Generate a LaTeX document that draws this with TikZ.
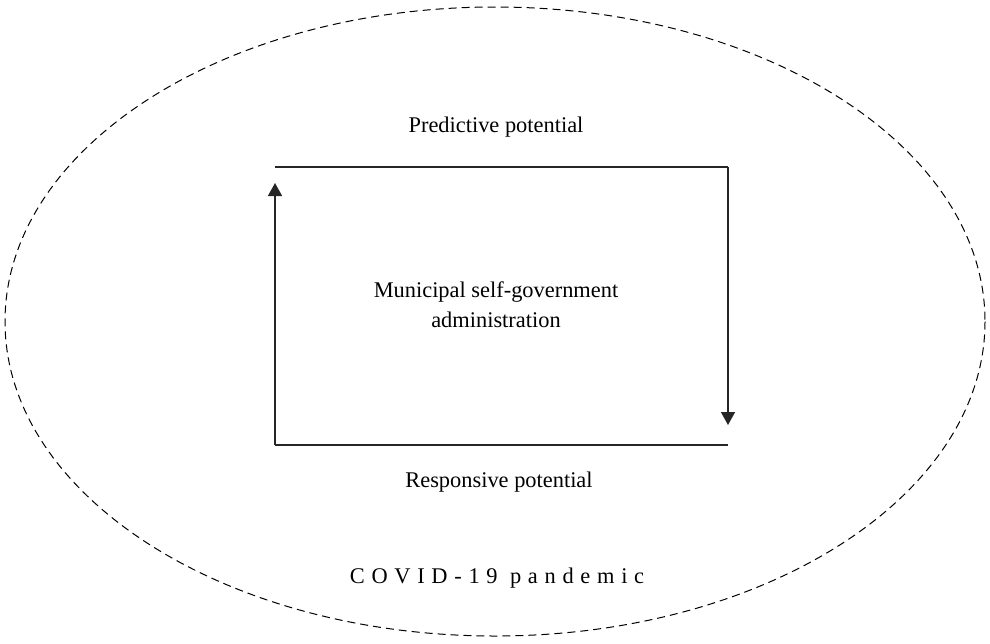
\documentclass[tikz,border=0pt]{standalone}
\usepackage{fontspec}
\setmainfont{Liberation Serif}
\usetikzlibrary{arrows.meta}

\begin{document}
\begin{tikzpicture}[x=0.5pt, y=-0.5pt, >={Triangle[width=7pt,length=6.5pt]}]
\tikzset{lbl/.style={font=\fontsize{11.2}{15}\selectfont, inner sep=0}}
\tikzset{frame/.style={line width=0.75pt, draw=black!85}}
\useasboundingbox (0,0) rectangle (990,643);

% surrounding context
\draw[dashed, dash pattern=on 4pt off 2.5pt, line width=0.5pt] (495,321.5) ellipse [x radius=490, y radius=314.5];

% corners of the cycle
\coordinate (tl) at (275,167);
\coordinate (tr) at (728,167);
\coordinate (br) at (728,445);
\coordinate (bl) at (275,445);
\coordinate (up) at (275,183);
\coordinate (down) at (728,425);

\draw[frame] (tl) -- (tr);
\draw[frame] (bl) -- (br);
\draw[frame,->] (bl) -- (up);
\draw[frame,->] (tr) -- (down);

\node[lbl] (pred) at (496,127) {Predictive potential};
\node[lbl, align=center] (admin) at (496,305) {Municipal self-government\\administration};
\node[lbl] (resp) at (499,482) {Responsive potential};
\node[lbl] (covid) at (497,578) {\addfontfeature{LetterSpace=30}COVID-19 pandemic};

\end{tikzpicture}
\end{document}
